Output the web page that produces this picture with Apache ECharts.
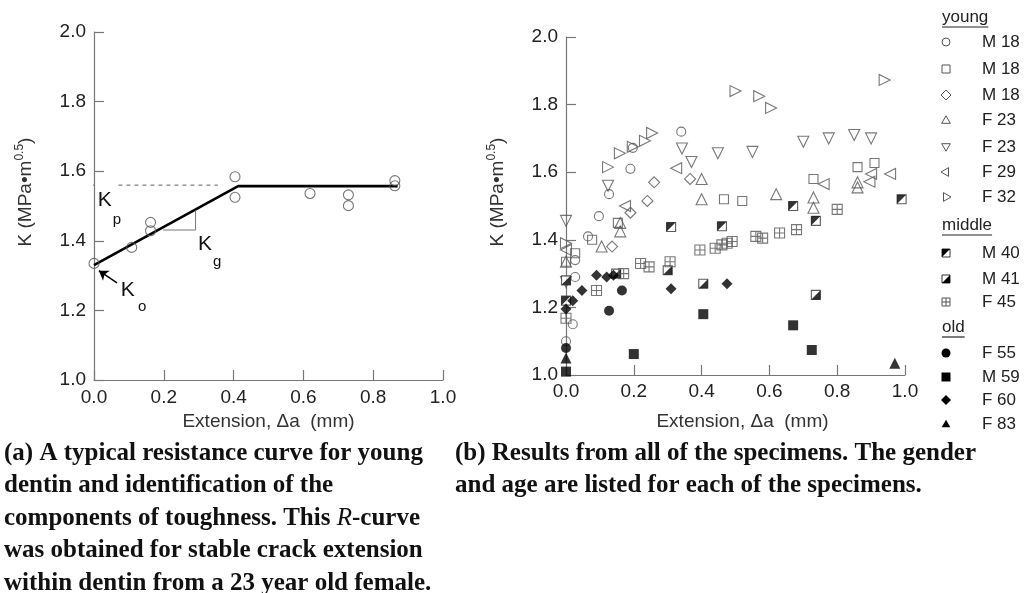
<!DOCTYPE html>
<html><head><meta charset="utf-8">
<script src="https://cdn.jsdelivr.net/npm/echarts@6/dist/echarts.min.js"></script>
<style>html,body{margin:0;padding:0;background:#fff}#c{width:1027px;height:593px}</style>
</head><body><div id="c"></div>
<script>
// ---------------- DATA ----------------
const xTickLabels = ['0.0','0.2','0.4','0.6','0.8','1.0'];
const yTickLabels = ['1.0','1.2','1.4','1.6','1.8','2.0'];
const xAxisTitle = 'Extension, \u0394a  (mm)';
const yAxisTitle = 'K (MPa\u2022m{sup|0.5})';

// Panel (a): 23-year-old female specimen
const aExt = [0.0, 0.108, 0.162, 0.162, 0.404, 0.404, 0.619, 0.729, 0.729, 0.862, 0.862];
const aK   = [1.335, 1.381, 1.453, 1.429, 1.584, 1.525, 1.536, 1.532, 1.501, 1.573, 1.558];
const aFitExt = [0.0, 0.413, 0.87];
const aFitK   = [1.330, 1.557, 1.557];
const aKp = 1.56;
const aKpDashExt = [0.07, 0.355];
const aKpTickExt = [-0.025, 0.0];
const aKgTriangle = [[0.198, 1.431], [0.291, 1.431], [0.291, 1.487]];
const aKoArrow = [[0.066, 1.279], [0.014, 1.314]];
const aLabels = [
  {main: 'K', sub: 'p', at: [0.011, 1.517], subAt: [0.054, 1.460]},
  {main: 'K', sub: 'o', at: [0.077, 1.259], subAt: [0.126, 1.210]},
  {main: 'K', sub: 'g', at: [0.298, 1.390], subAt: [0.341, 1.340]}
];

// Panel (b): all specimens
const young_M18_a = [[0,1.10],[0.02,1.15],[0.027,1.29],[0.027,1.34],[0.065,1.41],[0.097,1.47],[0.127,1.535],[0.19,1.61],[0.197,1.672],[0.34,1.72]];
const young_M18_b = [[0,1.335],[0.027,1.36],[0.077,1.40],[0.153,1.45],[0.466,1.52],[0.52,1.515],[0.73,1.58],[0.86,1.615],[0.91,1.627]];
const young_M18_c = [[0.136,1.38],[0.19,1.48],[0.24,1.515],[0.26,1.57],[0.366,1.58]];
const young_F23_a = [[0,1.335],[0.105,1.38],[0.16,1.425],[0.16,1.45],[0.40,1.52],[0.40,1.58],[0.62,1.535],[0.73,1.495],[0.73,1.525],[0.86,1.555],[0.86,1.57]];
const young_F23_b = [[0,1.456],[0,1.275],[0.124,1.56],[0.342,1.67],[0.37,1.63],[0.448,1.656],[0.55,1.66],[0.70,1.69],[0.775,1.70],[0.85,1.71],[0.90,1.70]];
const young_F29   = [[0,1.37],[0.174,1.50],[0.325,1.612],[0.76,1.565],[0.895,1.572],[0.90,1.595],[0.956,1.595]];
const young_F32   = [[0,1.39],[0.124,1.615],[0.159,1.656],[0.197,1.675],[0.233,1.693],[0.254,1.716],[0.50,1.84],[0.57,1.825],[0.605,1.79],[0.94,1.873]];
const middle_M40  = [[0,1.22],[0.31,1.438],[0.46,1.44],[0.67,1.50],[0.737,1.456],[0.99,1.52]];
const middle_M41  = [[0,1.28],[0.148,1.30],[0.30,1.31],[0.405,1.27],[0.737,1.237]];
const middle_F45  = [[0,1.168],[0.09,1.25],[0.17,1.30],[0.22,1.33],[0.245,1.32],[0.307,1.335],[0.395,1.37],[0.44,1.375],[0.46,1.385],[0.475,1.39],[0.49,1.395],[0.56,1.41],[0.58,1.405],[0.63,1.42],[0.68,1.43],[0.80,1.49]];
const old_F55     = [[0,1.08],[0.127,1.19],[0.165,1.25]];
const old_M59     = [[0,1.01],[0.20,1.062],[0.405,1.18],[0.67,1.147],[0.725,1.074]];
const old_F60     = [[0,1.195],[0.02,1.22],[0.047,1.25],[0.09,1.295],[0.12,1.29],[0.14,1.295],[0.31,1.255],[0.475,1.27]];
const old_F83     = [[0,1.05],[0.97,1.035]];

const groupNames = ['young', 'middle', 'old'];
const specimenLabels = ['M 18','M 18','M 18','F 23','F 23','F 29','F 32','M 40','M 41','F 45','F 55','M 59','F 60','F 83'];
const specimenGroups = [0,0,0,0,0,0,0,1,1,1,2,2,2,2];
const specimenData = [young_M18_a, young_M18_b, young_M18_c, young_F23_a, young_F23_b, young_F29, young_F32,
  middle_M40, middle_M41, middle_F45, old_F55, old_M59, old_F60, old_F83];
const specimenKinds = ['circleO','rectO','diamondO','triU','triD','triL','triR','halfUL','halfLR','grid','circleF','rectF','diamondF','triF'];

const captionA = ['(a) A typical resistance curve for young', 'dentin and identification of the',
  'components of toughness. This {it|R}-curve', 'was obtained for stable crack extension',
  'within dentin from a 23 year old female.'];
const captionB = ['(b) Results from all of the specimens. The gender', 'and age are listed for each of the specimens.'];

// ---------------- STYLE / LAYOUT ----------------
const FONT = '"Liberation Sans", Arial, Helvetica, sans-serif';
const OPEN = '#555';
const AX = '#777';
const legendRowsY = [17, 42, 69, 95, 120, 147, 172, 197, 225, 253, 279, 302, 327, 353, 377, 400, 424];
const legendMarkX = 946, legendTextX = 982, legendHeadX = 942;

const chart = echarts.init(document.getElementById('c'), null, {renderer: 'canvas'});

function axisPair(gi, nameGapX, labelMarginX, namePadX) {
  const common = {
    min: 0, max: 1, interval: 0.2, gridIndex: gi,
    axisLine: {lineStyle: {color: AX, width: 1.2}},
    axisTick: {inside: true, length: 10, lineStyle: {color: AX, width: 1.2}},
    splitLine: {show: false}
  };
  return {
    x: Object.assign({}, common, {
      type: 'value',
      axisLabel: {fontFamily: FONT, fontSize: 19, color: '#222', margin: labelMarginX,
        formatter: v => xTickLabels[Math.round(v / 0.2)]},
      name: xAxisTitle, nameLocation: 'middle', nameGap: nameGapX,
      nameTextStyle: {fontFamily: FONT, fontSize: 19, color: '#333', padding: [0, 0, 0, namePadX]}
    }),
    y: Object.assign({}, common, {
      type: 'value', min: 1, max: 2,
      axisLabel: {fontFamily: FONT, fontSize: 19, color: '#222', margin: 8,
        formatter: v => yTickLabels[Math.round((v - 1) / 0.2)]},
      name: yAxisTitle, nameLocation: 'middle', nameGap: 56, nameRotate: 90,
      nameTextStyle: {fontFamily: FONT, fontSize: 19, color: '#333', lineHeight: 24, padding: [0, 0, 0, 28],
        rich: {sup: {fontFamily: FONT, fontSize: 12, color: '#333', lineHeight: 12, verticalAlign: 'top'}}}
    })
  };
}
const A = axisPair(0, 32, 8, 0), B = axisPair(1, 37, 7, 14);

function scatterStyle(kind) {
  const open = {color: 'rgba(0,0,0,0)', borderColor: OPEN, borderWidth: 1.1};
  const fill = {color: '#000'};
  switch (kind) {
    case 'circleO': return [{symbol: 'circle', symbolSize: 9, itemStyle: open}];
    case 'rectO': return [{symbol: 'rect', symbolSize: 9, itemStyle: open}];
    case 'diamondO': return [{symbol: 'diamond', symbolSize: 11, itemStyle: open}];
    case 'triU': return [{symbol: 'triangle', symbolSize: 11, itemStyle: open}];
    case 'triD': return [{symbol: 'triangle', symbolSize: 11, symbolRotate: 180, itemStyle: open}];
    case 'triL': return [{symbol: 'triangle', symbolSize: 11, symbolRotate: 90, itemStyle: open}];
    case 'triR': return [{symbol: 'triangle', symbolSize: 11, symbolRotate: -90, itemStyle: open}];
    case 'halfUL': return [{symbol: 'rect', symbolSize: 9, itemStyle: {color: '#fff', borderColor: '#333', borderWidth: 1.1}},
                           {symbol: 'path://M0,0L10,0L0,10Z', symbolSize: 9, itemStyle: fill}];
    case 'halfLR': return [{symbol: 'rect', symbolSize: 9, itemStyle: {color: '#fff', borderColor: '#333', borderWidth: 1.1}},
                           {symbol: 'path://M10,0L10,10L0,10Z', symbolSize: 9, itemStyle: fill}];
    case 'grid': return [{symbol: 'path://M0,0H10V10H0ZM5,0V10M0,5H10', symbolSize: 10, itemStyle: open}];
    case 'circleF': return [{symbol: 'circle', symbolSize: 10, itemStyle: fill}];
    case 'rectF': return [{symbol: 'rect', symbolSize: 10, itemStyle: fill}];
    case 'diamondF': return [{symbol: 'diamond', symbolSize: 11, itemStyle: fill}];
    case 'triF': return [{symbol: 'triangle', symbolSize: 11, itemStyle: fill}];
  }
}

const series = [];
// Panel (a)
series.push({type: 'line', xAxisIndex: 0, yAxisIndex: 0, data: aFitExt.map((x, i) => [x, aFitK[i]]),
  symbol: 'none', lineStyle: {color: '#000', width: 2.6}, z: 3, silent: true});
series.push({type: 'line', xAxisIndex: 0, yAxisIndex: 0, data: aKpDashExt.map(x => [x, aKp]),
  symbol: 'none', lineStyle: {color: '#666', width: 1, type: [4, 4]}, silent: true});
series.push({type: 'line', xAxisIndex: 0, yAxisIndex: 0, data: aKpTickExt.map(x => [x, aKp]), clip: false,
  symbol: 'none', lineStyle: {color: '#666', width: 1}, silent: true});
series.push({type: 'line', xAxisIndex: 0, yAxisIndex: 0, data: aKgTriangle,
  symbol: 'none', lineStyle: {color: '#777', width: 1}, silent: true});
series.push({type: 'lines', coordinateSystem: 'cartesian2d', xAxisIndex: 0, yAxisIndex: 0,
  data: [{coords: aKoArrow}], symbol: ['none', 'arrow'], symbolSize: 9,
  lineStyle: {color: '#000', width: 1.5, opacity: 1}, silent: true});
series.push({type: 'scatter', xAxisIndex: 0, yAxisIndex: 0, data: aExt.map((x, i) => [x, aK[i]]),
  symbol: 'circle', symbolSize: 10, itemStyle: {color: 'rgba(0,0,0,0)', borderColor: OPEN, borderWidth: 1.1}, z: 4, silent: true});
// Panel (b)
specimenData.forEach((d, i) => {
  scatterStyle(specimenKinds[i]).forEach(st => {
    series.push(Object.assign({type: 'scatter', name: specimenLabels[i], xAxisIndex: 1, yAxisIndex: 1, data: d, silent: true}, st));
  });
});

chart.setOption({
  animation: false,
  backgroundColor: '#fff',
  textStyle: {fontFamily: FONT},
  grid: [{left: 94, top: 32, width: 349, height: 348}, {left: 566, top: 37, width: 339, height: 338}],
  xAxis: [A.x, B.x],
  yAxis: [A.y, B.y],
  series: series
});

// ---------------- ANNOTATIONS / LEGEND / CAPTIONS ----------------
const g = [];
aLabels.forEach(l => {
  const p = chart.convertToPixel({gridIndex: 0}, l.at);
  const s = chart.convertToPixel({gridIndex: 0}, l.subAt);
  g.push({type: 'text', x: p[0], y: p[1], style: {text: l.main, font: '21px ' + FONT, fill: '#111', verticalAlign: 'middle'}});
  g.push({type: 'text', x: s[0], y: s[1], style: {text: l.sub, font: '15px ' + FONT, fill: '#111', verticalAlign: 'middle'}});
});

function mark(kind, cx, cy) {
  const so = {fill: 'none', stroke: OPEN, lineWidth: 1};
  const sf = {fill: '#000'};
  const r = 4;
  const tri = (ang, st) => {
    const pts = [0, 1, 2].map(k => {
      const a = ang + k * 2 * Math.PI / 3;
      return [cx + 5 * Math.cos(a), cy + 5 * Math.sin(a) + (ang === -Math.PI / 2 ? 0.8 : ang === Math.PI / 2 ? -0.8 : 0)];
    });
    return [{type: 'polygon', shape: {points: pts}, style: st}];
  };
  switch (kind) {
    case 'circleO': return [{type: 'circle', shape: {cx, cy, r}, style: so}];
    case 'rectO': return [{type: 'rect', shape: {x: cx - r, y: cy - r, width: 2 * r, height: 2 * r}, style: so}];
    case 'diamondO': return [{type: 'polygon', shape: {points: [[cx, cy - 5], [cx + 5, cy], [cx, cy + 5], [cx - 5, cy]]}, style: so}];
    case 'triU': return tri(-Math.PI / 2, so);
    case 'triD': return tri(Math.PI / 2, so);
    case 'triL': return tri(Math.PI, so);
    case 'triR': return tri(0, so);
    case 'halfUL': return [{type: 'rect', shape: {x: cx - r, y: cy - r, width: 2 * r, height: 2 * r}, style: {fill: '#fff', stroke: '#333', lineWidth: 1}},
      {type: 'polygon', shape: {points: [[cx - r, cy - r], [cx + r, cy - r], [cx - r, cy + r]]}, style: sf}];
    case 'halfLR': return [{type: 'rect', shape: {x: cx - r, y: cy - r, width: 2 * r, height: 2 * r}, style: {fill: '#fff', stroke: '#333', lineWidth: 1}},
      {type: 'polygon', shape: {points: [[cx + r, cy - r], [cx + r, cy + r], [cx - r, cy + r]]}, style: sf}];
    case 'grid': return [{type: 'rect', shape: {x: cx - r, y: cy - r, width: 2 * r, height: 2 * r}, style: so},
      {type: 'line', shape: {x1: cx, y1: cy - r, x2: cx, y2: cy + r}, style: {stroke: OPEN, lineWidth: 1}},
      {type: 'line', shape: {x1: cx - r, y1: cy, x2: cx + r, y2: cy}, style: {stroke: OPEN, lineWidth: 1}}];
    case 'circleF': return [{type: 'circle', shape: {cx, cy, r: 4.5}, style: sf}];
    case 'rectF': return [{type: 'rect', shape: {x: cx - 4.5, y: cy - 4.5, width: 9, height: 9}, style: sf}];
    case 'diamondF': return [{type: 'polygon', shape: {points: [[cx, cy - 5], [cx + 5, cy], [cx, cy + 5], [cx - 5, cy]]}, style: sf}];
    case 'triF': return tri(-Math.PI / 2, sf);
  }
}
const ctx = document.createElement('canvas').getContext('2d');
ctx.font = '17px "Liberation Sans"';
let row = 0, lastGroup = -1;
specimenLabels.forEach((lab, i) => {
  if (specimenGroups[i] !== lastGroup) {
    lastGroup = specimenGroups[i];
    const y = legendRowsY[row++];
    const txt = groupNames[lastGroup];
    g.push({type: 'text', x: legendHeadX, y: y, style: {text: txt, font: '17px ' + FONT, fill: '#222', verticalAlign: 'middle'}});
    const w = ctx.measureText(txt).width;
    g.push({type: 'line', shape: {x1: legendHeadX, y1: y + 10, x2: legendHeadX + w, y2: y + 10}, style: {stroke: '#222', lineWidth: 1.2}});
  }
  const y = legendRowsY[row++];
  mark(specimenKinds[i], legendMarkX, y).forEach(e => g.push(e));
  g.push({type: 'text', x: legendTextX, y: y, style: {text: lab, font: '17px ' + FONT, fill: '#222', verticalAlign: 'middle'}});
});

const capFont = 'bold 25px "Liberation Serif", serif';
g.push({type: 'text', x: 4, y: 437, style: {text: captionA.join('\n'), font: capFont, fill: '#111', lineHeight: 32.5,
  rich: {it: {font: 'italic 25px "Liberation Serif", serif', fill: '#111', lineHeight: 32.5}}}});
g.push({type: 'text', x: 455, y: 437, style: {text: captionB.join('\n'), font: capFont, fill: '#111', lineHeight: 32.5}});

chart.setOption({graphic: g});
</script>
</body></html>
